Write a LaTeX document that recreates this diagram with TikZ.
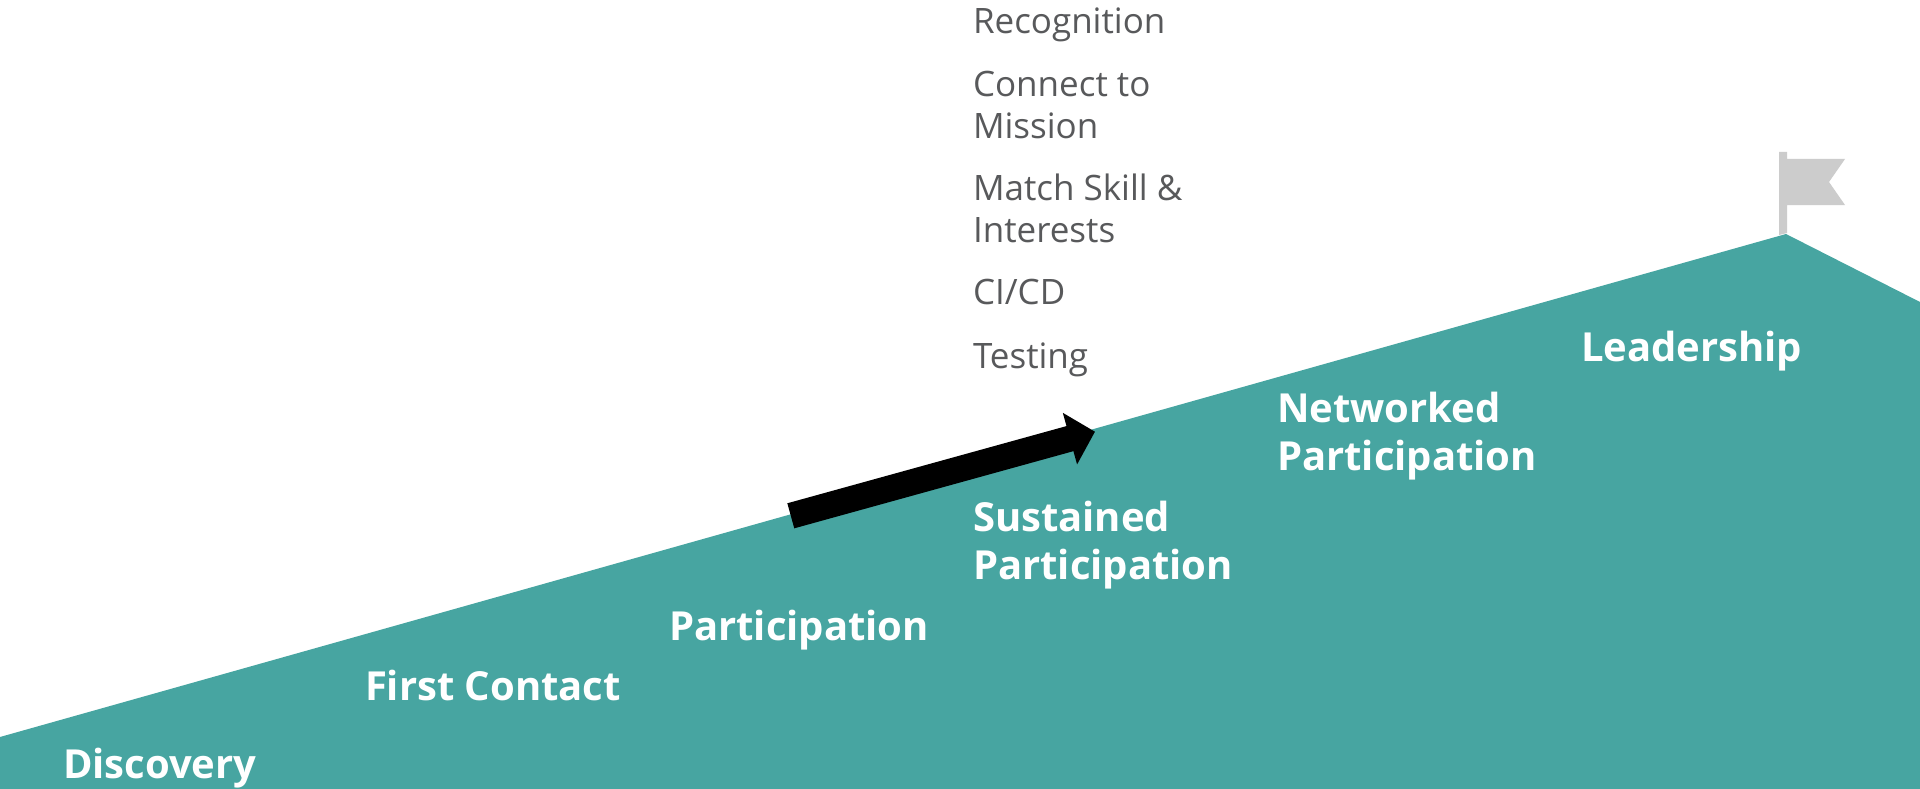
\documentclass[tikz,border=0pt]{standalone}
\usepackage{fontspec}
\setmainfont{Open Sans}
\usetikzlibrary{arrows.meta}
\definecolor{hill}{HTML}{47A5A1}
\definecolor{flaggray}{HTML}{CCCCCC}
\definecolor{bodytext}{HTML}{58595B}
\tikzset{
  x=1pt,y=-1pt,
  item/.style={anchor=base west,inner sep=0pt,outer sep=0pt,text=bodytext,align=left,
    font=\fontsize{35}{42}\selectfont},
  stage/.style={anchor=base west,inner sep=0pt,outer sep=0pt,text=white,align=left,
    font=\fontsize{40}{48}\selectfont\bfseries},
}
\begin{document}
\begin{tikzpicture}
\useasboundingbox (0,0) rectangle (1920,789);
\fill[white] (0,0) rectangle (1920,789);
\fill[hill] (0,737) -- (1786,234) -- (1920,302) -- (1920,789) -- (0,789) -- cycle;
\fill[flaggray] (1779,152) -- (1787,152) -- (1787,159) -- (1845,159) -- (1829,182) -- (1845,205) -- (1787,205) -- (1787,233) -- (1779,235) -- cycle;
\coordinate (tail) at (790.8,515.8);
\coordinate (tip) at (1095,431.7);
\draw[line width=26pt,-{Triangle[length=26pt,width=52pt]}] (tail) -- (tip);
\node[item] (recognition) at (973,34) {Recognition};
\node[item] (connect) at (973,139) {Connect to\\Mission};
\node[item] (match) at (973,242) {Match Skill \&\\Interests};
\node[item] (cicd) at (973,304) {CI/CD};
\node[item] (testing) at (973,368) {Testing};
\node[stage] (discovery) at (63,778) {Discovery};
\node[stage] (first) at (365,700.5) {First Contact};
\node[stage] (part) at (669,640.5) {Participation};
\node[stage] (sustained) at (973,579.5) {Sustained\\Participation};
\node[stage] (networked) at (1277,470.5) {Networked\\Participation};
\node[stage] (leadership) at (1581,361.5) {Leadership};
\end{tikzpicture}
\end{document}
